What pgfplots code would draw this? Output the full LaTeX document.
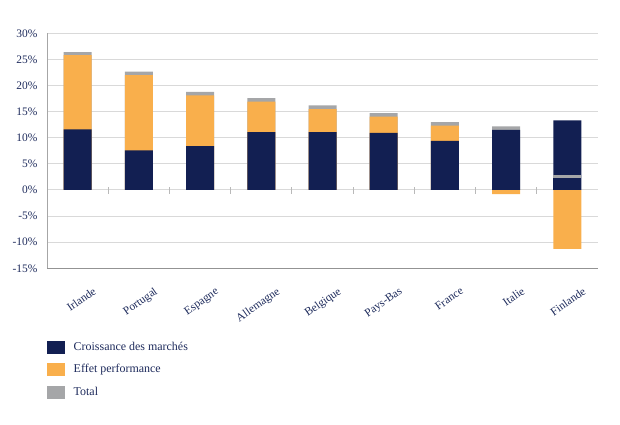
\documentclass[border=0pt]{standalone}
\usepackage{pgfplots}
\pgfplotsset{compat=1.18}
\usepackage{fontspec}
\setmainfont{Liberation Serif}
\definecolor{navy}{HTML}{121F52}
\definecolor{orng}{HTML}{F9AF4C}
\definecolor{gry}{HTML}{A5A6A8}
\definecolor{txt}{HTML}{1E2B5C}
\begin{document}
\begin{tikzpicture}
\useasboundingbox (0,0) rectangle (620bp,425bp);
\begin{axis}[
  at={(47bp,156.7bp)}, anchor=south west,
  scale only axis, width=551bp, height=235bp,
  xmin=-0.5, xmax=8.5, ymin=-15, ymax=30,
  ytick={-15,-10,...,30},
  xtick={0,...,8},
  xticklabels={Irlande,Portugal,Espagne,Allemagne,Belgique,Pays-Bas,France,Italie,Finlande},
  /pgf/number format/assume math mode=true,
  yticklabel={\pgfmathprintnumber{\tick}\%},
  ticklabel style={font=\fontsize{11.5}{13}\selectfont, text=txt},
  xticklabel style={rotate=35, anchor=north east, xshift=5bp, yshift=-20bp},
  yticklabel style={xshift=-6bp},
  xtick style={draw=none}, ytick style={draw=none},
  axis x line*=bottom, axis y line*=left,
  x axis line style={-, draw=gray!85, line width=1.3bp},
  y axis line style={-, draw=gray!70, line width=0.9bp},
  ymajorgrids, major grid style={draw=gray!30, line width=1bp},
  mybar/.style={ybar, bar width=28bp, bar shift=0pt, draw=none, forget plot},
  legend image code/.code={\fill[#1, draw=none] (0bp,-6.5bp) rectangle (18bp,6.5bp);},
  legend cell align=left,
  legend style={at={(0,0)}, anchor=north west, yshift=-72bp, xshift=0bp,
    draw=none, fill=none, inner sep=0pt, row sep=9.5bp,
    font=\fontsize{12}{14}\selectfont, text=txt,
    nodes={inner ysep=0pt, inner xsep=4.5bp}},
  /tikz/every odd column/.append style={column sep=4bp},
]
\addlegendimage{fill=navy, draw=none}
\addlegendentry{Croissance des marchés}
\addlegendimage{fill=orng, draw=none}
\addlegendentry{Effet performance}
\addlegendimage{fill=gry, draw=none}
\addlegendentry{Total}

% gray tops (total marker), drawn first
\addplot[mybar, fill=gry] coordinates {(0,26.4) (1,22.65) (2,18.8) (3,17.6) (4,16.2) (5,14.7) (6,13.0) (7,12.2)};
% navy + orange cumulative tops / negative orange
\addplot[mybar, fill=orng] coordinates {(0,25.8) (1,22.0) (2,18.1) (3,16.9) (4,15.5) (5,14.05) (6,12.3) (7,-0.8) (8,-11.3)};
% croissance des marchés
\addplot[mybar, fill=navy] coordinates {(0,11.6) (1,7.6) (2,8.4) (3,11.1) (4,11.1) (5,10.95) (6,9.4) (7,11.5) (8,13.35)};
% Finlande total marker inside the navy bar
\addplot[mybar, fill=gry] coordinates {(8,2.9)};
\addplot[mybar, fill=navy] coordinates {(8,2.2)};

\pgfplotsinvokeforeach{0.5,1.5,...,7.5}{
  \draw[gray!55, line width=0.8bp] ([yshift=2.5bp]axis cs:#1,0) -- ([yshift=-4.5bp]axis cs:#1,0);
}
\end{axis}
\end{tikzpicture}
\end{document}
